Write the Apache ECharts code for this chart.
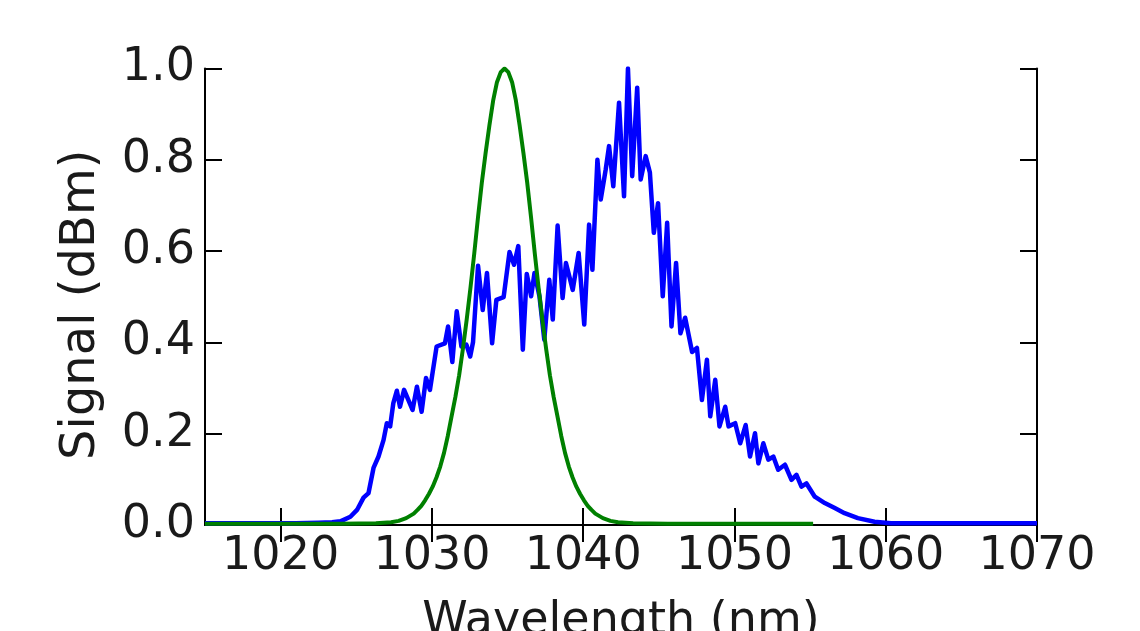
<!DOCTYPE html>
<html>
<head>
<meta charset="utf-8">
<script src="https://cdn.jsdelivr.net/npm/echarts@6.0.0/dist/echarts.min.js"></script>
<style>
html,body{margin:0;padding:0;background:#fff;}
#chart{width:1140px;height:631px;}
</style>
</head>
<body>
<div id="chart"></div>
<script>
// Measured spectrum (blue)
const blueWavelength = [1015, 1021, 1022.5, 1023.4, 1023.95, 1024.61, 1025.05, 1025.48, 1025.81, 1026.14, 1026.47, 1026.80, 1027.02, 1027.24, 1027.45, 1027.68, 1027.89, 1028.16, 1028.44, 1028.72, 1029.01, 1029.32, 1029.61, 1029.87, 1030.31, 1030.86, 1031.07, 1031.35, 1031.64, 1031.95, 1032.28, 1032.53, 1032.72, 1033.05, 1033.36, 1033.64, 1033.98, 1034.26, 1034.74, 1035.13, 1035.43, 1035.71, 1036.01, 1036.27, 1036.56, 1036.78, 1037.11, 1037.43, 1037.76, 1037.99, 1038.31, 1038.64, 1038.86, 1039.31, 1039.70, 1040.07, 1040.39, 1040.61, 1040.94, 1041.16, 1041.49, 1041.71, 1041.99, 1042.37, 1042.70, 1042.96, 1043.24, 1043.57, 1043.80, 1044.13, 1044.41, 1044.67, 1044.95, 1045.26, 1045.55, 1045.84, 1046.14, 1046.43, 1046.74, 1047.20, 1047.52, 1047.85, 1048.18, 1048.40, 1048.73, 1049.01, 1049.39, 1049.61, 1050.05, 1050.38, 1050.74, 1051.03, 1051.36, 1051.58, 1051.91, 1052.24, 1052.57, 1052.89, 1053.34, 1053.77, 1054.10, 1054.43, 1054.76, 1055.31, 1055.97, 1056.63, 1057.28, 1058.16, 1059.26, 1060.35, 1065, 1070];
const blueSignal = [0.004, 0.004, 0.005, 0.006, 0.008, 0.018, 0.033, 0.060, 0.070, 0.125, 0.150, 0.186, 0.223, 0.216, 0.267, 0.294, 0.259, 0.296, 0.274, 0.252, 0.303, 0.248, 0.322, 0.296, 0.391, 0.398, 0.435, 0.357, 0.468, 0.391, 0.395, 0.369, 0.401, 0.568, 0.471, 0.552, 0.398, 0.493, 0.499, 0.598, 0.570, 0.611, 0.384, 0.550, 0.501, 0.552, 0.501, 0.406, 0.537, 0.450, 0.656, 0.497, 0.574, 0.515, 0.596, 0.439, 0.658, 0.559, 0.800, 0.713, 0.779, 0.830, 0.742, 0.925, 0.720, 1.000, 0.764, 0.958, 0.757, 0.808, 0.772, 0.640, 0.705, 0.501, 0.662, 0.435, 0.574, 0.420, 0.454, 0.379, 0.388, 0.274, 0.362, 0.238, 0.318, 0.216, 0.259, 0.216, 0.223, 0.179, 0.219, 0.150, 0.201, 0.135, 0.179, 0.143, 0.150, 0.121, 0.132, 0.099, 0.110, 0.084, 0.091, 0.062, 0.048, 0.037, 0.026, 0.015, 0.007, 0.004, 0.004, 0.004];

// Filter profile (green)
const greenWavelength = [1015, 1020, 1024, 1026.3, 1027.3, 1027.8, 1028.3, 1028.8, 1029.05, 1029.3, 1029.55, 1029.8, 1030.05, 1030.3, 1030.55, 1030.8, 1031.05, 1031.3, 1031.55, 1031.8, 1032.05, 1032.3, 1032.55, 1032.8, 1033.05, 1033.3, 1033.55, 1033.8, 1034.05, 1034.3, 1034.55, 1034.8, 1035.05, 1035.3, 1035.55, 1035.8, 1036.05, 1036.3, 1036.55, 1036.8, 1037.05, 1037.3, 1037.55, 1037.8, 1038.05, 1038.3, 1038.55, 1038.8, 1039.05, 1039.3, 1039.55, 1039.8, 1040.05, 1040.3, 1040.55, 1040.8, 1041.3, 1041.8, 1042.3, 1043.3, 1045.6, 1050, 1055.2];
const greenSignal = [0.003, 0.003, 0.003, 0.004, 0.006, 0.009, 0.015, 0.025, 0.033, 0.042, 0.054, 0.068, 0.084, 0.104, 0.128, 0.158, 0.195, 0.238, 0.280, 0.328, 0.386, 0.450, 0.520, 0.595, 0.675, 0.750, 0.815, 0.875, 0.930, 0.970, 0.992, 1.000, 0.992, 0.970, 0.930, 0.875, 0.815, 0.750, 0.675, 0.595, 0.520, 0.450, 0.386, 0.328, 0.280, 0.238, 0.195, 0.158, 0.128, 0.104, 0.084, 0.068, 0.054, 0.042, 0.033, 0.025, 0.015, 0.009, 0.006, 0.004, 0.003, 0.003, 0.003];

// Axis ticks
const xTicks = [1020, 1030, 1040, 1050, 1060, 1070];
const yTicks = [0.0, 0.2, 0.4, 0.6, 0.8, 1.0];

const xLabel = 'Wavelength (nm)';
const yLabel = 'Signal (dBm)';

const bluePts = blueWavelength.map((x, i) => [x, blueSignal[i]]);
const greenPts = greenWavelength.map((x, i) => [x, greenSignal[i]]);

const FONT = 'DejaVu Sans';
const TXT = '#1a1a1a';
const frameLine = { show: true, lineStyle: { color: '#000', width: 2 } };
const tickStyle = { color: '#000', width: 2 };

const chart = echarts.init(document.getElementById('chart'), null, { renderer: 'canvas' });
chart.setOption({
  animation: false,
  backgroundColor: '#fff',
  grid: { left: 205, right: 103, top: 68.5, bottom: 106, containLabel: false, outerBoundsMode: 'none' },
  xAxis: [
    {
      type: 'value', min: 1015, max: 1070, position: 'bottom',
      axisLine: frameLine,
      axisTick: { show: true, inside: true, length: 17, lineStyle: tickStyle, customValues: xTicks },
      axisLabel: { show: true, customValues: xTicks, color: TXT, fontFamily: FONT, fontSize: 46, margin: 9,
                   formatter: v => String(Math.round(v)) },
      splitLine: { show: false },
      name: xLabel, nameLocation: 'middle', nameGap: 74,
      nameTextStyle: { color: TXT, fontFamily: FONT, fontSize: 46 }
    },
    {
      type: 'value', min: 1015, max: 1070, position: 'top',
      axisLine: frameLine,
      axisTick: { show: true, inside: true, length: 17, lineStyle: tickStyle, customValues: xTicks },
      axisLabel: { show: false },
      splitLine: { show: false }
    }
  ],
  yAxis: [
    {
      type: 'value', min: 0, max: 1, interval: 0.2, position: 'left',
      axisLine: frameLine,
      axisTick: { show: true, inside: true, length: 17, lineStyle: tickStyle },
      axisLabel: { show: true, color: TXT, fontFamily: FONT, fontSize: 46, margin: 10,
                   formatter: v => v.toFixed(1) },
      splitLine: { show: false },
      name: yLabel, nameLocation: 'middle', nameGap: 99,
      nameTextStyle: { color: TXT, fontFamily: FONT, fontSize: 48, padding: [0, 16, 0, 0] }
    },
    {
      type: 'value', min: 0, max: 1, interval: 0.2, position: 'right',
      axisLine: frameLine,
      axisTick: { show: true, inside: true, length: 17, lineStyle: tickStyle },
      axisLabel: { show: false },
      splitLine: { show: false }
    }
  ],
  series: [
    {
      name: 'Measured', type: 'line', xAxisIndex: 0, yAxisIndex: 0,
      data: bluePts, showSymbol: false, symbol: 'none',
      lineStyle: { color: '#0000ff', width: 4.5, join: 'round' },
      z: 2
    },
    {
      name: 'Filter', type: 'line', xAxisIndex: 0, yAxisIndex: 0,
      data: greenPts, showSymbol: false, symbol: 'none',
      lineStyle: { color: '#008000', width: 4, join: 'round' },
      z: 3
    }
  ]
});
</script>
</body>
</html>
